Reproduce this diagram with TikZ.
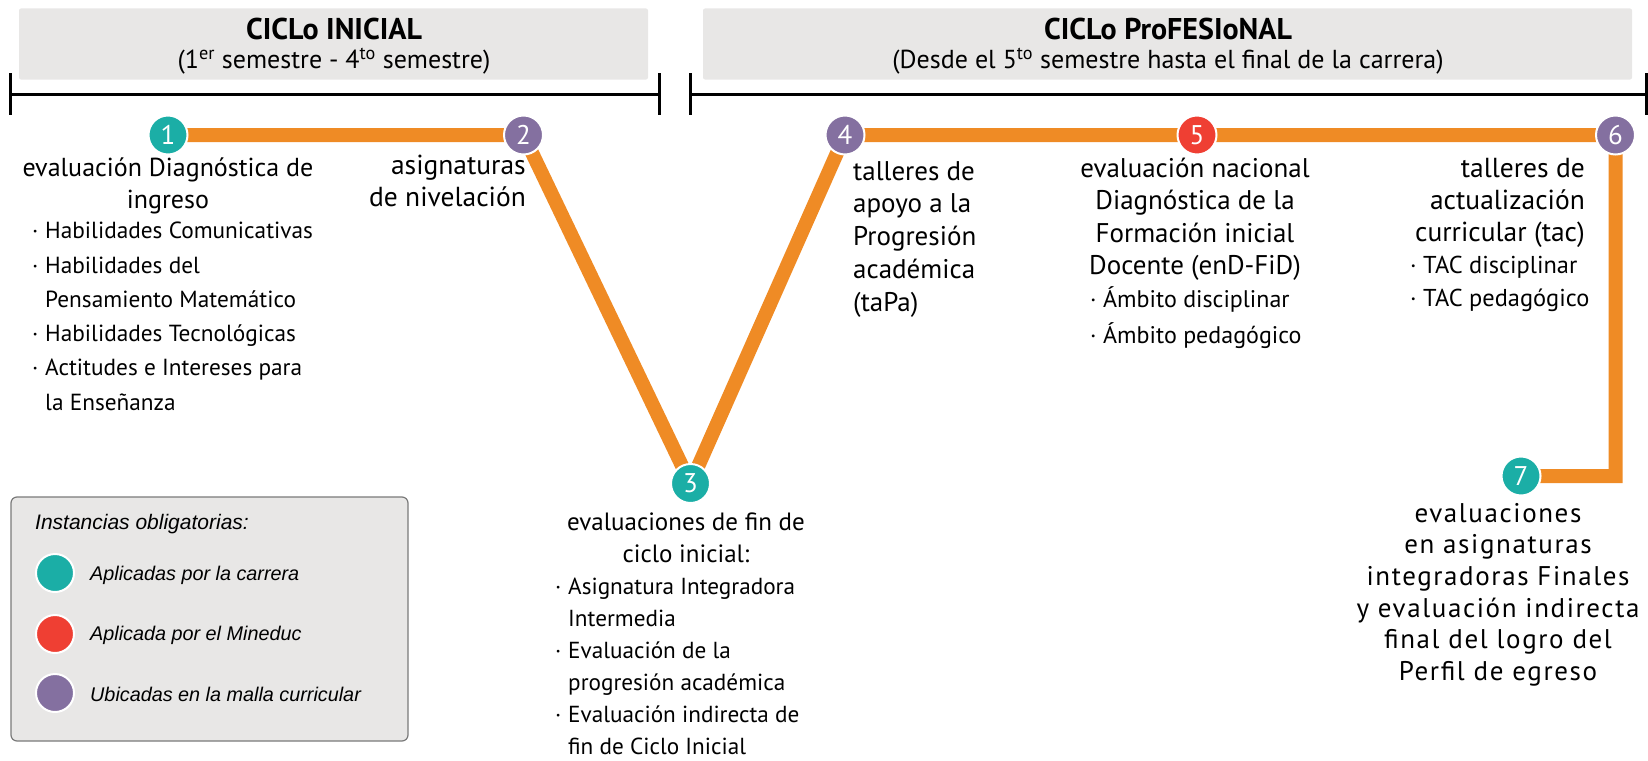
\documentclass[tikz,border=0pt]{standalone}
\usepackage{fontspec}
\setmainfont{PT Sans}
\newfontfamily\legfont{Liberation Sans}
\newfontfamily\widefont[LetterSpace=6]{PT Sans}
\usetikzlibrary{backgrounds}
\definecolor{orng}{HTML}{EF8B25}
\definecolor{tealc}{HTML}{1BAEA6}
\definecolor{redc}{HTML}{EF3F33}
\definecolor{purc}{HTML}{8470A0}
\definecolor{hdrgray}{HTML}{E8E7E6}
\definecolor{legborder}{HTML}{7A7A7A}
\newcommand{\bul}{\makebox[13pt][l]{·}}
\newcommand{\ind}{\hspace*{13pt}}
\begin{document}
\begin{tikzpicture}[x=1pt,y=-1pt,
  hdrbox/.style={fill=hdrgray, draw=none, rounded corners=2pt, inner sep=0},
  hdrtitle/.style={inner sep=0, font=\fontsize{30}{34}\selectfont\bfseries},
  hdrsub/.style={inner sep=0, font=\fontsize{26}{30}\selectfont},
  tl/.style={line width=3pt, black},
  orangeline/.style={draw=orng, line width=14pt, line join=miter},
  numc/.style={circle, minimum size=39pt, inner sep=0, draw=white, line width=2pt, text=white, font=\fontsize{27}{27}\selectfont},
  txt/.style={inner sep=0, font=\fontsize{26}{32}\selectfont},
  btxt/.style={inner sep=0, align=left, font=\fontsize{23.3}{34.3}\selectfont},
  legc/.style={circle, minimum size=38pt, inner sep=0, draw=white, line width=2pt},
  legtxt/.style={inner sep=0, anchor=west, font=\legfont\itshape\fontsize{19.8}{22}\selectfont}
]
\useasboundingbox (0,0) rectangle (1648,760);

% header boxes
\node[hdrbox, minimum width=629pt, minimum height=71pt] (hb1) at (333.5,44) {};
\node[hdrbox, minimum width=929pt, minimum height=71pt] (hb2) at (1167.5,44) {};
\node[hdrtitle] (ht1) at (334,29) {CICLo INICIAL};
\node[hdrsub] (hs1) at (334,61) {(1\textsuperscript{er} semestre - 4\textsuperscript{to} semestre)};
\node[hdrtitle] (ht2) at (1168,29) {CICLo ProFESIoNAL};
\node[hdrsub] (hs2) at (1168,61) {(Desde el 5\textsuperscript{to} semestre hasta el final de la carrera)};

% timelines
\coordinate (a1) at (10.5,94);
\coordinate (a2) at (659,94);
\coordinate (b1) at (690,94);
\coordinate (b2) at (1646.5,94);
\draw[tl] (a1) -- (a2);
\draw[tl] ([yshift=21pt]a1) -- ([yshift=-21pt]a1);
\draw[tl] ([yshift=21pt]a2) -- ([yshift=-21pt]a2);
\draw[tl] (b1) -- (b2);
\draw[tl] ([yshift=21pt]b1) -- ([yshift=-21pt]b1);
\draw[tl] ([yshift=21pt]b2) -- ([yshift=-21pt]b2);

% number nodes
\node[numc, fill=tealc] (n1) at (168,135) {1};
\node[numc, fill=purc] (n2) at (523.5,135) {2};
\node[numc, fill=tealc] (n3) at (690.5,483.5) {3};
\node[numc, fill=purc] (n4) at (845,135) {4};
\node[numc, fill=redc] (n5) at (1197,135) {5};
\node[numc, fill=purc] (n6) at (1615.5,135) {6};
\node[numc, fill=tealc] (n7) at (1521,476) {7};
\coordinate (c67) at (1615.5,476);

\begin{scope}[on background layer]
\draw[orangeline] (n1.center) -- (n2.center) -- (n3.center) -- (n4.center) -- (n5.center) -- (n6.center) -- (c67) -- (n7.center);
\end{scope}

% labels
\node[txt, align=center, anchor=north, font=\fontsize{26}{31.5}\selectfont] (l1) at (168,158) {evaluación Diagnóstica de\\ingreso};
\node[btxt, anchor=north west] (l1b) at (32,222) {\bul Habilidades Comunicativas\\\bul Habilidades del\\\ind Pensamiento Matemático\\\bul Habilidades Tecnológicas\\\bul Actitudes e Intereses para\\\ind la Enseñanza};

\node[txt, align=right, anchor=north east, font=\fontsize{27.5}{31.5}\selectfont] (l2) at (526,155) {asignaturas\\de nivelación};

\node[txt, align=center, anchor=north, font=\fontsize{25}{31.5}\selectfont] (l3) at (686,513) {evaluaciones de fin de\\ciclo inicial:};
\node[btxt, anchor=north west, font=\fontsize{23.2}{32}\selectfont] (l3b) at (555,578) {\bul Asignatura Integradora\\\ind Intermedia\\\bul Evaluación de la\\\ind progresión académica\\\bul Evaluación indirecta de\\\ind fin de Ciclo Inicial};

\node[txt, align=left, anchor=north west, font=\fontsize{27}{32.8}\selectfont] (l4) at (853,161) {talleres de\\apoyo a la\\Progresión\\académica\\(taPa)};

\node[txt, align=center, anchor=north, font=\fontsize{27}{32.3}\selectfont] (l5) at (1195,158) {evaluación nacional\\Diagnóstica de la\\Formación inicial\\Docente (enD-FiD)};
\node[btxt, anchor=north west, font=\fontsize{24}{36}\selectfont] (l5b) at (1090,286) {\bul Ámbito disciplinar\\\bul Ámbito pedagógico};

\node[txt, align=right, anchor=north east, font=\fontsize{27.5}{32.2}\selectfont] (l6) at (1585,158) {talleres de\\actualización\\curricular (tac)};
\node[btxt, anchor=north west, font=\fontsize{24.4}{32.5}\selectfont] (l6b) at (1410,256) {\bul TAC disciplinar\\\bul TAC pedagógico};

\node[txt, align=center, anchor=north, font=\widefont\fontsize{27}{31.6}\selectfont] (l7) at (1498,503) {evaluaciones\\en asignaturas\\integradoras Finales\\y evaluación indirecta\\final del logro del\\Perfil de egreso};

% legend
\node[draw=legborder, line width=1.2pt, fill=hdrgray, rounded corners=6pt, minimum width=397pt, minimum height=244pt, inner sep=0] (leg) at (209.5,619) {};
\node[legtxt, font=\legfont\itshape\fontsize{21}{24}\selectfont] (legt) at (35,524) {Instancias obligatorias:};
\node[legc, fill=tealc] (lc1) at (55,573) {};
\node[legc, fill=redc] (lc2) at (55,634) {};
\node[legc, fill=purc] (lc3) at (55,693) {};
\node[legtxt] (lt1) at (90,575) {Aplicadas por la carrera};
\node[legtxt] (lt2) at (90,635) {Aplicada por el Mineduc};
\node[legtxt] (lt3) at (90,694) {Ubicadas en la malla curricular};
\end{tikzpicture}
\end{document}
